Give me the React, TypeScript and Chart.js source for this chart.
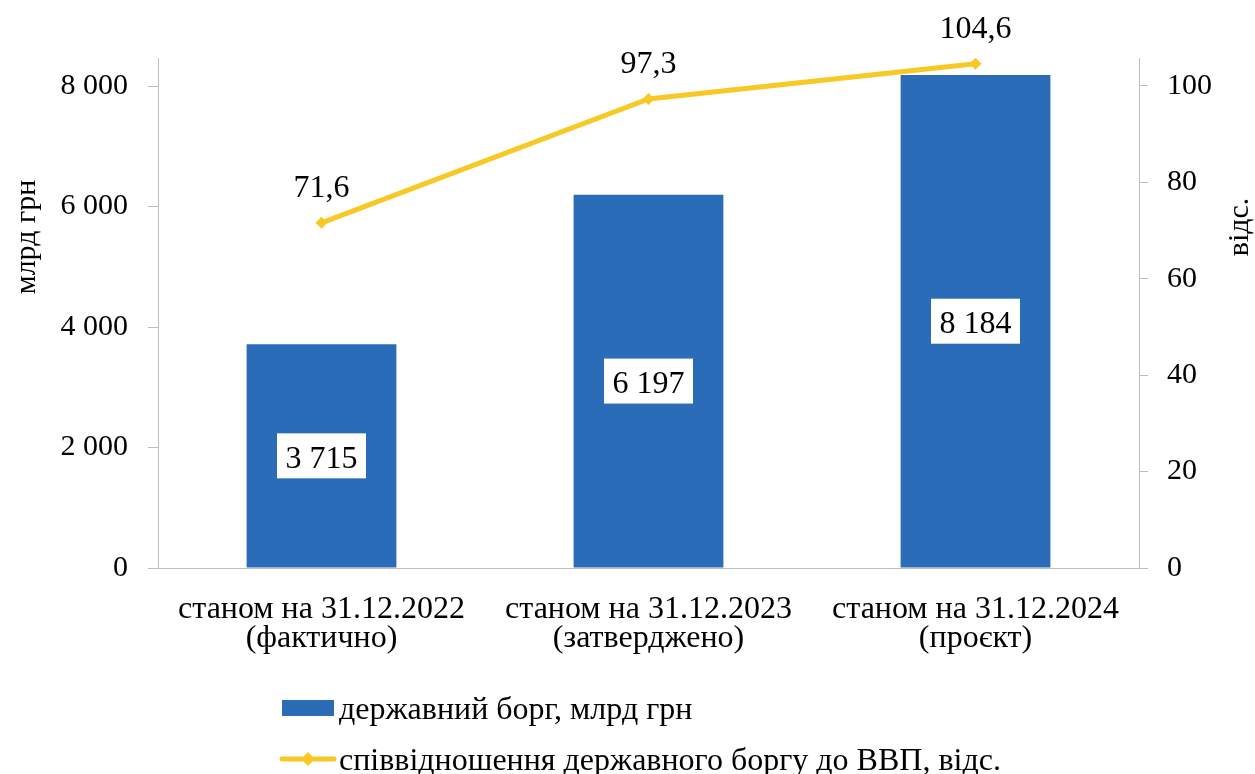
import React, { useEffect, useRef } from "react";
import { Chart, registerables } from "chart.js";

Chart.register(...registerables);

const categories: string[][] = [
  ["станом на 31.12.2022", "(фактично)"],
  ["станом на 31.12.2023", "(затверджено)"],
  ["станом на 31.12.2024", "(проєкт)"],
];
const debtValues = [3715, 6197, 8184];
const ratioValues = [71.6, 97.3, 104.6];
const leftTicks = [0, 2000, 4000, 6000, 8000];
const rightTicks = [0, 20, 40, 60, 80, 100];
const debtLabel = "державний борг, млрд грн";
const ratioLabel = "співвідношення державного боргу до ВВП, відс.";
const leftTitle = "млрд грн";
const rightTitle = "відс.";

const FONT = "'Liberation Serif', 'Times New Roman', serif";
const BLUE = "#2B6CB9";
const YELLOW = "#F8C824";
const AXIS = "#BFBFBF";

const fmtThousands = (v: number) =>
  String(v).replace(/\B(?=(\d{3})+(?!\d))/g, " ");
const fmtComma = (v: number) => v.toFixed(1).replace(".", ",");

const decorPlugin = {
  id: "decor",
  afterDatasetsDraw(chart: any) {
    const ctx = chart.ctx as CanvasRenderingContext2D;
    ctx.save();
    ctx.font = `32px ${FONT}`;
    ctx.fillStyle = "#000";
    // bar labels
    const barMeta = chart.getDatasetMeta(0);
    barMeta.data.forEach((el: any, i: number) => {
      const txt = fmtThousands(debtValues[i]);
      const cx = el.x;
      const cy = (el.y + el.base) / 2;
      const w = ctx.measureText(txt).width;
      ctx.fillStyle = "#fff";
      ctx.fillRect(cx - w / 2 - 8.5, cy - 22.5, w + 17, 45);
      ctx.fillStyle = "#000";
      ctx.textAlign = "center";
      ctx.textBaseline = "alphabetic";
      ctx.fillText(txt, cx, cy + 12);
    });
    // line labels
    const lineMeta = chart.getDatasetMeta(1);
    lineMeta.data.forEach((el: any, i: number) => {
      ctx.textAlign = "center";
      ctx.textBaseline = "alphabetic";
      ctx.fillText(fmtComma(ratioValues[i]), el.x, el.y - 26);
    });
    // axis titles
    ctx.font = `30px ${FONT}`;
    ctx.save();
    ctx.translate(27, 237);
    ctx.rotate(-Math.PI / 2);
    ctx.textAlign = "center";
    ctx.textBaseline = "middle";
    ctx.fillText(leftTitle, 0, 0);
    ctx.restore();
    ctx.save();
    ctx.translate(1240, 227);
    ctx.rotate(-Math.PI / 2);
    ctx.textAlign = "center";
    ctx.textBaseline = "middle";
    ctx.fillText(rightTitle, 0, 0);
    ctx.restore();
    // legend
    ctx.font = `32px ${FONT}`;
    const lx = 282;
    ctx.fillStyle = BLUE;
    ctx.fillRect(lx, 700, 52, 16);
    ctx.fillStyle = "#000";
    ctx.textAlign = "left";
    ctx.textBaseline = "alphabetic";
    ctx.fillText(debtLabel, 339, 719);
    const ly = 759;
    ctx.strokeStyle = YELLOW;
    ctx.lineWidth = 5;
    ctx.lineCap = "round";
    ctx.beginPath();
    ctx.moveTo(lx, ly);
    ctx.lineTo(lx + 52, ly);
    ctx.stroke();
    ctx.fillStyle = YELLOW;
    ctx.beginPath();
    ctx.moveTo(lx + 26, ly - 7);
    ctx.lineTo(lx + 33, ly);
    ctx.lineTo(lx + 26, ly + 7);
    ctx.lineTo(lx + 19, ly);
    ctx.closePath();
    ctx.fill();
    ctx.fillStyle = "#000";
    ctx.fillText(ratioLabel, 339, ly + 11);
    ctx.restore();
  },
};

export default function App() {
  const ref = useRef<HTMLCanvasElement | null>(null);
  useEffect(() => {
    if (!ref.current) return;
    const chart = new Chart(ref.current, {
      type: "bar",
      data: {
        labels: categories as any,
        datasets: [
          {
            type: "bar",
            label: debtLabel,
            data: debtValues,
            backgroundColor: BLUE,
            barPercentage: 0.458,
            categoryPercentage: 1,
            yAxisID: "y",
            order: 1,
          },
          {
            type: "line",
            label: ratioLabel,
            data: ratioValues,
            borderColor: YELLOW,
            backgroundColor: YELLOW,
            borderWidth: 5,
            pointStyle: "rectRot",
            pointRadius: 6,
            pointBorderWidth: 0,
            yAxisID: "y1",
            order: 0,
          } as any,
        ],
      },
      options: {
        animation: false,
        responsive: false,
        maintainAspectRatio: false,
        layout: { padding: { top: 58, left: 0, right: 0, bottom: 0 } },
        plugins: { legend: { display: false }, tooltip: { enabled: false } },
        scales: {
          x: {
            grid: { display: false, drawTicks: false },
            border: { display: true, color: AXIS, width: 1 },
            ticks: {
              color: "#000",
              font: { family: FONT, size: 32, lineHeight: 0.9 },
              padding: 27,
              maxRotation: 0,
              autoSkip: false,
            },
            afterFit: (s: any) => {
              s.height = 206;
            },
          },
          y: {
            position: "left",
            min: 0,
            max: 8465,
            grid: {
              drawOnChartArea: false,
              drawTicks: true,
              tickLength: 10,
              color: AXIS,
            },
            border: { display: true, color: AXIS, width: 1 },
            ticks: {
              autoSkip: false,
              color: "#000",
              font: { family: FONT, size: 30 },
              padding: 20,
              callback: (v: any) => fmtThousands(Number(v)),
            },
            afterBuildTicks: (s: any) => {
              s.ticks = leftTicks.map((v) => ({ value: v }));
            },
            afterFit: (s: any) => {
              s.width = 158;
            },
          },
          y1: {
            position: "right",
            min: 0,
            max: 105.8,
            grid: {
              drawOnChartArea: false,
              drawTicks: true,
              tickLength: 9,
              color: AXIS,
            },
            border: { display: true, color: AXIS, width: 1 },
            ticks: {
              autoSkip: false,
              color: "#000",
              font: { family: FONT, size: 30 },
              padding: 19,
            },
            afterBuildTicks: (s: any) => {
              s.ticks = rightTicks.map((v) => ({ value: v }));
            },
            afterFit: (s: any) => {
              s.width = 116;
            },
          },
        },
      },
      plugins: [decorPlugin],
    });
    return () => chart.destroy();
  }, []);
  return (
    <div style={{ position: "fixed", left: 0, top: 0, width: 1255, height: 774, background: "#fff" }}>
      <canvas ref={ref} width={1255} height={774} style={{ display: "block" }} />
    </div>
  );
}
